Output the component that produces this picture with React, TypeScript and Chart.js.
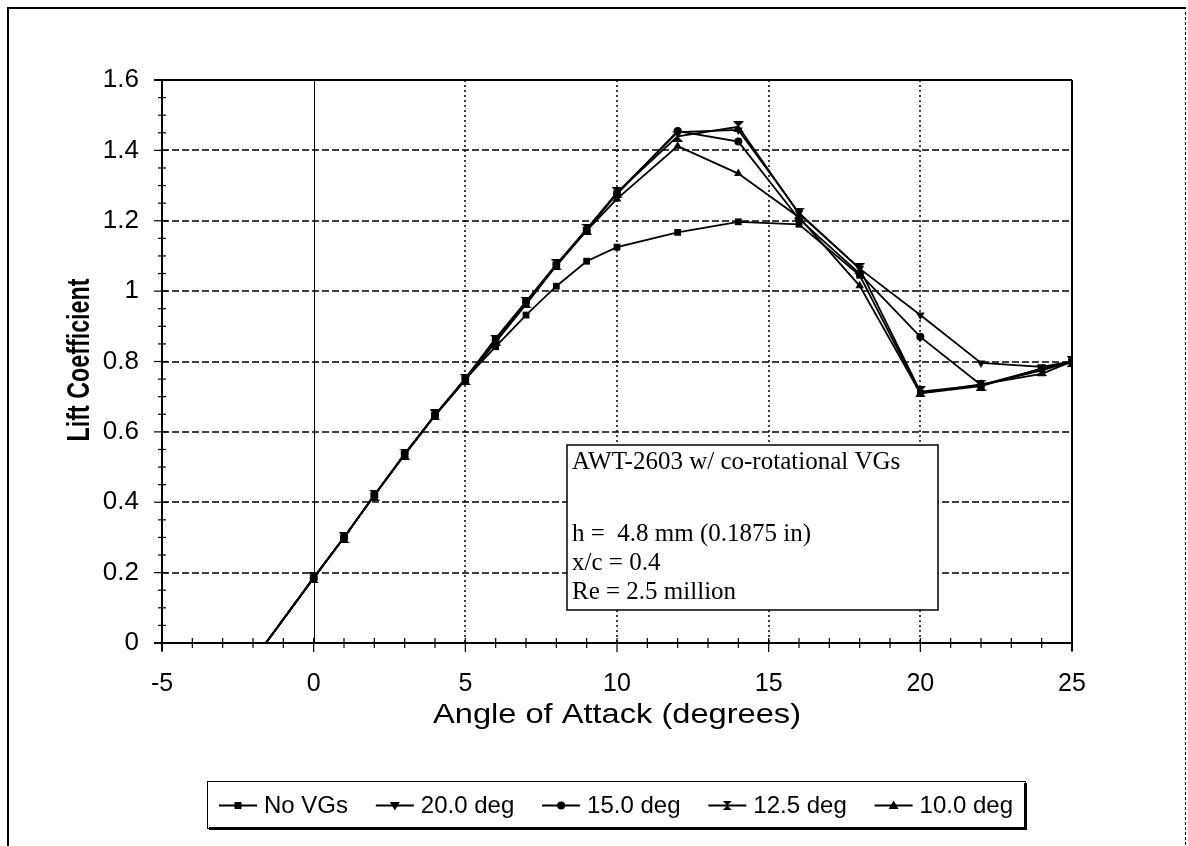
import React, { useEffect, useRef } from 'react';
import { Chart, registerables } from 'chart.js';

Chart.register(...registerables);

// ---------- data ----------
const angles = [-2, 0, 1, 2, 3, 4, 5, 6, 7, 8, 9, 10, 12, 14, 16, 18, 20, 22, 24, 25];
const noVGs = [-0.05, 0.185, 0.3, 0.42, 0.535, 0.648, 0.75, 0.842, 0.932, 1.014, 1.085, 1.125, 1.167, 1.197, 1.19, 1.045, 0.71, 0.73, 0.78, 0.8];
const vg20 = [-0.05, 0.185, 0.3, 0.42, 0.537, 0.648, 0.752, 0.866, 0.97, 1.076, 1.175, 1.279, 1.452, 1.458, 1.222, 1.064, 0.932, 0.796, 0.785, 0.8];
const vg15 = [-0.05, 0.185, 0.3, 0.42, 0.537, 0.648, 0.75, 0.862, 0.968, 1.074, 1.173, 1.276, 1.455, 1.425, 1.205, 1.05, 0.87, 0.733, 0.78, 0.8];
const vg125 = [-0.05, 0.185, 0.3, 0.42, 0.537, 0.648, 0.749, 0.86, 0.967, 1.075, 1.176, 1.28, 1.44, 1.467, 1.22, 1.064, 0.714, 0.733, 0.775, 0.8];
const vg10 = [-0.05, 0.185, 0.3, 0.42, 0.535, 0.646, 0.747, 0.855, 0.962, 1.072, 1.172, 1.262, 1.412, 1.334, 1.21, 1.015, 0.71, 0.735, 0.765, 0.8];

const seriesLabels = ['No VGs', '20.0 deg', '15.0 deg', '12.5 deg', '10.0 deg'];
const seriesValues = [noVGs, vg20, vg15, vg125, vg10];
const seriesMarkers = ['rect', 'triangleDown', 'circle', 'hourglass', 'triangle'];

const xMin = -5;
const xMax = 25;
const xStep = 5;
const xMinorStep = 1;
const yMin = 0;
const yMax = 1.6;
const yStep = 0.2;
const yMinorStep = 0.05;

const xTitle = 'Angle of Attack (degrees)';
const yTitle = 'Lift Coefficient';
const noteLines = ['AWT-2603 w/ co-rotational VGs', '', 'h =  4.8 mm (0.1875 in)', 'x/c = 0.4', 'Re = 2.5 million'];

const SANS = '"Liberation Sans", Arial, sans-serif';
const SERIF = '"Liberation Serif", "Times New Roman", serif';

// ---------- marker helpers ----------
function makeHourglass(size: number): HTMLCanvasElement {
  const c = document.createElement('canvas');
  c.width = size;
  c.height = size;
  const g = c.getContext('2d')!;
  g.fillStyle = '#000';
  g.beginPath();
  g.moveTo(0, 0);
  g.lineTo(size, 0);
  g.lineTo(size / 2, size / 2);
  g.closePath();
  g.fill();
  g.beginPath();
  g.moveTo(0, size);
  g.lineTo(size, size);
  g.lineTo(size / 2, size / 2);
  g.closePath();
  g.fill();
  g.fillRect(size / 2 - 1, 0, 2, size);
  return c;
}

function drawMarker(ctx: CanvasRenderingContext2D, kind: string, x: number, y: number) {
  ctx.save();
  ctx.fillStyle = '#000';
  ctx.beginPath();
  if (kind === 'rect') {
    ctx.rect(x - 3.5, y - 3.5, 7, 7);
  } else if (kind === 'circle') {
    ctx.arc(x, y, 4, 0, Math.PI * 2);
  } else if (kind === 'triangle') {
    ctx.moveTo(x, y - 5);
    ctx.lineTo(x + 5, y + 3.5);
    ctx.lineTo(x - 5, y + 3.5);
    ctx.closePath();
  } else if (kind === 'triangleDown') {
    ctx.moveTo(x, y + 5);
    ctx.lineTo(x + 5, y - 3.5);
    ctx.lineTo(x - 5, y - 3.5);
    ctx.closePath();
  } else if (kind === 'hourglass') {
    ctx.moveTo(x - 4.5, y - 4.5);
    ctx.lineTo(x + 4.5, y - 4.5);
    ctx.lineTo(x, y);
    ctx.closePath();
    ctx.moveTo(x - 4.5, y + 4.5);
    ctx.lineTo(x + 4.5, y + 4.5);
    ctx.lineTo(x, y);
    ctx.closePath();
  }
  ctx.fill();
  ctx.restore();
}

function hline(ctx: CanvasRenderingContext2D, x1: number, x2: number, y: number) {
  ctx.beginPath();
  ctx.moveTo(x1, y);
  ctx.lineTo(x2, y);
  ctx.stroke();
}
function vline(ctx: CanvasRenderingContext2D, x: number, y1: number, y2: number) {
  ctx.beginPath();
  ctx.moveTo(x, y1);
  ctx.lineTo(x, y2);
  ctx.stroke();
}

const decorPlugin = {
  id: 'decor',
  beforeDatasetsDraw(chart: any) {
    const { ctx, chartArea: a, scales } = chart;
    const xs = scales.x;
    const ys = scales.y;
    ctx.save();
    ctx.strokeStyle = '#000';

    // horizontal dashed grid
    ctx.lineWidth = 1.5;
    ctx.setLineDash([7, 3]);
    ys.ticks.forEach((t: any) => {
      if (t.value > yMin + 1e-9 && t.value < yMax - 1e-9) {
        hline(ctx, a.left, a.right, Math.round(ys.getPixelForValue(t.value)));
      }
    });
    // vertical dotted grid
    ctx.setLineDash([2, 3]);
    xs.ticks.forEach((t: any) => {
      if (t.value > xMin && t.value < xMax && t.value !== 0) {
        vline(ctx, Math.round(xs.getPixelForValue(t.value)), a.top, a.bottom);
      }
    });
    // zero line
    ctx.setLineDash([]);
    ctx.lineWidth = 1;
    vline(ctx, Math.round(xs.getPixelForValue(0)) + 0.5, a.top, a.bottom);

    // axes and plot border
    ctx.lineWidth = 2;
    hline(ctx, a.left - 8, a.right, a.top);
    vline(ctx, a.right, a.top, a.bottom + 8);
    vline(ctx, a.left, a.top, a.bottom + 8);
    hline(ctx, a.left - 8, a.right, a.bottom);

    // ticks
    ctx.lineWidth = 1.2;
    for (let v = yMin; v <= yMax + 1e-9; v += yMinorStep) {
      const py = ys.getPixelForValue(v);
      const major = Math.abs(v / yStep - Math.round(v / yStep)) < 1e-6;
      hline(ctx, a.left - (major ? 8 : 4), a.left + (major ? 6 : 4), py);
    }
    for (let v = xMin; v <= xMax + 1e-9; v += xMinorStep) {
      const px = xs.getPixelForValue(v);
      const major = Math.abs(v / xStep - Math.round(v / xStep)) < 1e-6;
      vline(ctx, px, a.bottom - 5, a.bottom + (major ? 9 : 5));
    }
    ctx.restore();
  },
  afterDraw(chart: any) {
    const { ctx, scales } = chart;
    ctx.save();

    // outer frame
    ctx.strokeStyle = '#000';
    ctx.lineWidth = 2;
    ctx.setLineDash([]);
    hline(ctx, 7, 1186, 8);
    vline(ctx, 8, 7, 846);
    ctx.lineWidth = 1;
    ctx.setLineDash([3, 2]);
    vline(ctx, 1185.5, 12, 846);
    ctx.setLineDash([]);

    // annotation box
    const bx = 567, by = 445, bw = 371, bh = 165;
    ctx.fillStyle = '#fff';
    ctx.fillRect(bx, by, bw, bh);
    ctx.lineWidth = 1.5;
    ctx.strokeRect(bx, by, bw, bh);
    ctx.fillStyle = '#000';
    ctx.font = `25px ${SERIF}`;
    ctx.textAlign = 'left';
    ctx.textBaseline = 'alphabetic';
    const baselines = [469, 505, 541, 570, 599];
    noteLines.forEach((t, i) => {
      if (t) ctx.fillText(t, bx + 5, baselines[i]);
    });

    // y title (bold, condensed)
    ctx.save();
    ctx.translate(80, 360);
    ctx.rotate(-Math.PI / 2);
    ctx.font = `bold 31px ${SANS}`;
    const w = ctx.measureText(yTitle).width;
    ctx.scale(163 / w, 1);
    ctx.textAlign = 'center';
    ctx.textBaseline = 'middle';
    ctx.fillText(yTitle, 0, 0);
    ctx.restore();

    // x title
    ctx.save();
    ctx.translate(scales.x.getPixelForValue(10), 715);
    ctx.font = `28px ${SANS}`;
    const wx = ctx.measureText(xTitle).width;
    ctx.scale(368 / wx, 1);
    ctx.textAlign = 'center';
    ctx.textBaseline = 'middle';
    ctx.fillText(xTitle, 0, 0);
    ctx.restore();

    // legend
    const lx = 207, ly = 781, lw = 818, lh = 47;
    ctx.fillStyle = '#fff';
    ctx.fillRect(lx, ly, lw, lh);
    ctx.strokeStyle = '#000';
    ctx.lineWidth = 1;
    ctx.strokeRect(lx + 0.5, ly + 0.5, lw, lh);
    ctx.fillStyle = '#000';
    ctx.fillRect(lx + 2, ly + lh - 1, lw, 3);
    ctx.fillRect(lx + lw - 1, ly + 2, 3, lh);
    ctx.font = `24px ${SANS}`;
    ctx.textBaseline = 'middle';
    ctx.textAlign = 'left';
    const sample = 38, gapT = 7;
    const widths = chart.data.datasets.map((d: any) => ctx.measureText(d.label).width);
    const total = widths.reduce((s: number, v: number) => s + v + sample + gapT, 0);
    const inner = lw - 24;
    const spacing = (inner - total) / (widths.length - 1);
    let cx = lx + 12;
    const cy = ly + lh / 2 + 1;
    chart.data.datasets.forEach((d: any, i: number) => {
      ctx.lineWidth = 2;
      hline(ctx, cx, cx + sample, cy);
      drawMarker(ctx, seriesMarkers[i], cx + sample / 2, cy);
      ctx.fillText(d.label, cx + sample + gapT, cy + 1);
      cx += sample + gapT + widths[i] + spacing;
    });

    ctx.restore();
  },
};

export default function App() {
  const ref = useRef<HTMLCanvasElement | null>(null);
  useEffect(() => {
    document.body.style.margin = '0';
    const hour = makeHourglass(11);
    const pointStyleFor = (k: string): any => {
      if (k === 'hourglass') return hour;
      if (k === 'triangleDown') return 'triangle';
      return k;
    };
    const datasets = seriesLabels.map((label, i) => {
      const k = seriesMarkers[i];
      return {
        label,
        data: angles.map((a, j) => ({ x: a, y: seriesValues[i][j] })),
        borderColor: '#000',
        backgroundColor: '#000',
        borderWidth: 1.8,
        pointStyle: pointStyleFor(k),
        pointRotation: k === 'triangleDown' ? 180 : 0,
        pointRadius: k === 'rect' ? 4.8 : k === 'circle' ? 4 : 5,
        pointBorderWidth: 0,
        pointBackgroundColor: '#000',
        tension: 0,
        fill: false,
      };
    });
    const chart = new Chart(ref.current!, {
      type: 'line',
      data: { datasets },
      plugins: [decorPlugin],
      options: {
        responsive: false,
        animation: false,
        layout: { padding: { left: 0, top: 80, right: 116, bottom: 103 } },
        plugins: {
          legend: { display: false },
          tooltip: { enabled: false },
        },
        scales: {
          x: {
            type: 'linear',
            min: xMin,
            max: xMax,
            afterFit: (s: any) => {
              s.height = 100;
            },
            ticks: {
              stepSize: xStep,
              color: '#000',
              padding: 26,
              font: { family: SANS, size: 25 },
            },
            grid: { display: false, drawTicks: false },
            border: { display: false },
            title: { display: false, text: xTitle },
          },
          y: {
            type: 'linear',
            min: yMin,
            max: yMax,
            afterFit: (s: any) => {
              s.width = 162;
            },
            ticks: {
              stepSize: yStep,
              color: '#000',
              padding: 23,
              font: { family: SANS, size: 26 },
              callback: (v: any) => String(Number(Number(v).toFixed(1))),
            },
            grid: { display: false, drawTicks: false },
            border: { display: false },
            title: { display: false, text: yTitle },
          },
        },
      },
    });
    return () => chart.destroy();
  }, []);
  return (
    <div style={{ position: 'absolute', left: 0, top: 0, width: 1188, height: 846, background: '#fff' }}>
      <canvas ref={ref} width={1188} height={846} style={{ display: 'block' }} />
    </div>
  );
}
